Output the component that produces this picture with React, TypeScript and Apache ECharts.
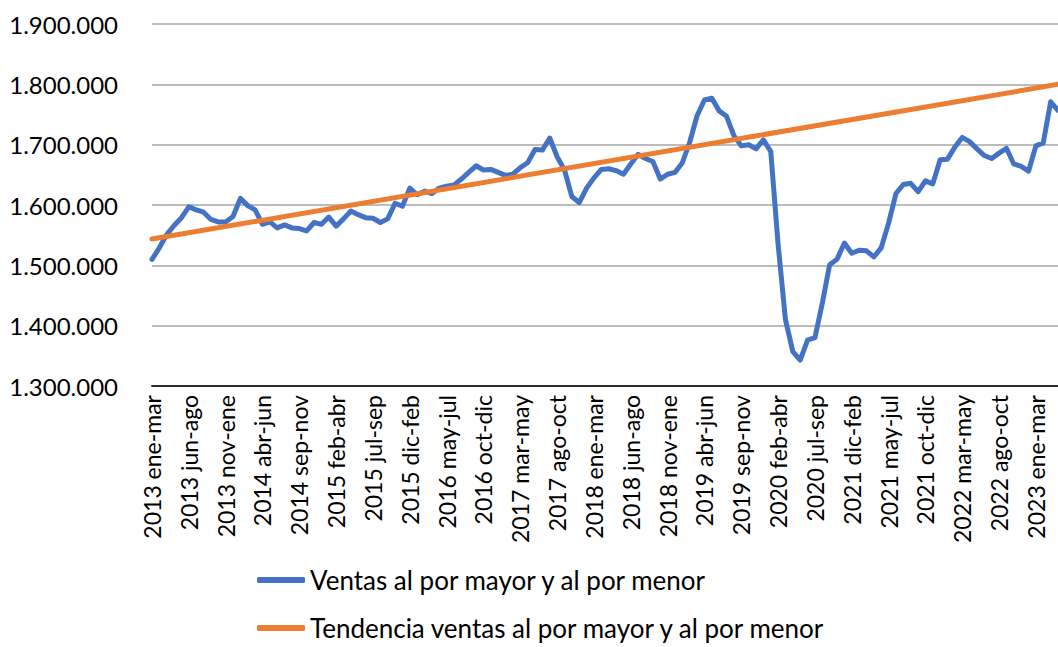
import React, { useEffect, useRef } from "react";
import * as echarts from "echarts";

// ---- Data ----
const MONTHS = ["ene", "feb", "mar", "abr", "may", "jun", "jul", "ago", "sep", "oct", "nov", "dic"];
const START_YEAR = 2013;
const PERIOD_COUNT = 124;
// label as printed in the source (one window is tagged with its ending year)
const LABEL_OVERRIDES: Record<number, string> = { 95: "2021 dic-feb" };

const categories: string[] = Array.from({ length: PERIOD_COUNT }, (_, i) => {
  if (LABEL_OVERRIDES[i]) return LABEL_OVERRIDES[i];
  const m = i % 12;
  const y = START_YEAR + Math.floor(i / 12);
  return `${y} ${MONTHS[m]}-${MONTHS[(m + 2) % 12]}`;
});

const ventas: number[] = [
  1510000, 1529000, 1551000, 1566000, 1579000, 1597000, 1592000, 1588000, 1576000, 1572000,
  1572000, 1581000, 1611000, 1599000, 1592000, 1568000, 1572000, 1562000, 1567000, 1562000,
  1561000, 1557000, 1571000, 1568000, 1580000, 1565000, 1577000, 1590000, 1584000, 1579000,
  1578000, 1571000, 1577000, 1603000, 1598000, 1628000, 1617000, 1623000, 1619000, 1628000,
  1631000, 1633000, 1643000, 1654000, 1665000, 1658000, 1659000, 1654000, 1649000, 1651000,
  1662000, 1670000, 1692000, 1691000, 1711000, 1680000, 1658000, 1614000, 1604000, 1628000,
  1645000, 1659000, 1660000, 1657000, 1651000, 1668000, 1684000, 1677000, 1672000, 1643000,
  1651000, 1654000, 1670000, 1704000, 1748000, 1774000, 1777000, 1756000, 1747000, 1715000,
  1698000, 1700000, 1693000, 1708000, 1689000, 1535000, 1410000, 1357000, 1343000, 1376000,
  1380000, 1437000, 1501000, 1510000, 1537000, 1520000, 1525000, 1524000, 1514000, 1529000,
  1570000, 1619000, 1634000, 1636000, 1622000, 1640000, 1635000, 1675000, 1676000, 1696000,
  1712000, 1705000, 1693000, 1682000, 1677000, 1686000, 1694000, 1668000, 1664000, 1656000,
  1698000, 1703000, 1771000, 1757000,
];

// trend line endpoints (first and last period)
const trendStart = 1543500;
const trendEnd = 1800000;

const Y_MIN = 1300000;
const Y_MAX = 1900000;
const Y_STEP = 100000;

const SERIES_NAMES = [
  "Ventas al por mayor y al por menor",
  "Tendencia ventas al por mayor y al por menor",
];

const FONT = "Lato";

const fmt = (v: number) => String(Math.round(v)).replace(/\B(?=(\d{3})+(?!\d))/g, ".");

const legendBase = {
  orient: "horizontal",
  left: 252,
  itemWidth: 48,
  itemHeight: 6,
  icon: "roundRect",
  textStyle: { fontFamily: FONT, fontSize: 26, lineHeight: 26, color: "#000" },
};

export default function App() {
  const ref = useRef<HTMLDivElement>(null);

  useEffect(() => {
    if (!ref.current) return;
    const chart = echarts.init(ref.current, undefined, { renderer: "svg" });
    chart.setOption({
      animation: false,
      backgroundColor: "#ffffff",
      textStyle: { fontFamily: FONT },
      grid: { left: 152, right: 0, top: 24, bottom: 261, containLabel: false },
      legend: [
        { ...legendBase, top: 562, data: [SERIES_NAMES[0]] },
        { ...legendBase, top: 610, data: [SERIES_NAMES[1]] },
      ],
      xAxis: {
        type: "category",
        data: categories,
        boundaryGap: false,
        axisLine: { show: true, lineStyle: { color: "#2b2b2b", width: 2 } },
        axisTick: { show: false },
        splitLine: { show: false },
        axisLabel: {
          interval: 4,
          rotate: 90,
          margin: 9,
          fontFamily: FONT,
          fontSize: 23,
          color: "#000",
        },
      },
      yAxis: {
        type: "value",
        min: Y_MIN,
        max: Y_MAX,
        interval: Y_STEP,
        axisLine: { show: false },
        axisTick: { show: false },
        splitLine: { show: true, lineStyle: { color: "#a6a6a6", width: 1.5 } },
        axisLabel: {
          margin: 34,
          fontFamily: FONT,
          fontSize: 24,
          color: "#000",
          formatter: (v: number) => fmt(v),
        },
      },
      series: [
        {
          name: SERIES_NAMES[0],
          type: "line",
          data: ventas,
          showSymbol: false,
          symbol: "none",
          color: "#4472C4",
          lineStyle: { color: "#4472C4", width: 5, cap: "round", join: "round" },
          z: 2,
        },
        {
          name: SERIES_NAMES[1],
          type: "line",
          data: [
            [categories[0], trendStart],
            [categories[PERIOD_COUNT - 1], trendEnd],
          ],
          showSymbol: false,
          symbol: "none",
          color: "#ED7D31",
          lineStyle: { color: "#ED7D31", width: 5, cap: "round" },
          z: 3,
        },
      ],
    });
    return () => chart.dispose();
  }, []);

  return (
    <div
      ref={ref}
      style={{ position: "absolute", left: 0, top: 0, width: 1058, height: 647 }}
    />
  );
}
